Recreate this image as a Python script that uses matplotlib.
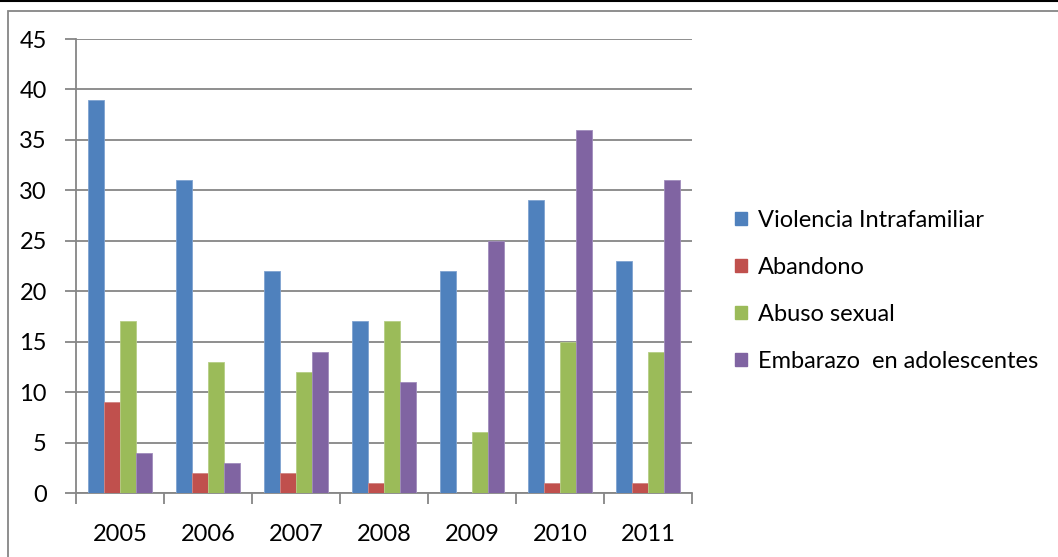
import numpy as np
import matplotlib
matplotlib.use('Agg')
import matplotlib.pyplot as plt
from matplotlib.patches import Rectangle, Patch
from matplotlib.lines import Line2D

plt.rcParams['font.family'] = ['Lato', 'DejaVu Sans']

# datos
years = ['2005', '2006', '2007', '2008', '2009', '2010', '2011']
violencia = [39, 31, 22, 17, 22, 29, 23]
abandono = [9, 2, 2, 1, 0, 1, 1]
abuso = [17, 13, 12, 17, 6, 15, 14]
embarazo = [4, 3, 14, 11, 25, 36, 31]
series = ['Violencia Intrafamiliar', 'Abandono', 'Abuso sexual', 'Embarazo  en adolescentes']
colors = ['#4F81BD', '#C0504D', '#9BBB59', '#8064A2']
edges = ['#7FA3D1', '#D08583', '#B6CE85', '#A08CBC']

fig = plt.figure(figsize=(10.58, 5.57), dpi=100)
ax = fig.add_axes([76 / 1058, 64 / 557, 616 / 1058, 454 / 557])

x = np.arange(len(years))
w = 16 / 88
valores = [violencia, abandono, abuso, embarazo]
for i, vals in enumerate(valores):
    ax.bar(x + (i - 1.5) * w, vals, width=w, color=colors[i], edgecolor=edges[i],
           linewidth=0.6, zorder=3)

ax.set_xlim(-0.5, len(years) - 0.5)
ax.set_ylim(0, 45)
ax.set_yticks(range(0, 46, 5))
ax.set_xticks(x)
ax.set_xticklabels(years)
ax.set_xticks(np.arange(-0.5, len(years), 1), minor=True)
ax.grid(axis='y', color='#868686', linewidth=1.3, zorder=0)

gris = '#868686'
for s in ['top', 'right']:
    ax.spines[s].set_visible(False)
for s in ['left', 'bottom']:
    ax.spines[s].set_color(gris)
    ax.spines[s].set_linewidth(1.3)
ax.tick_params(axis='y', length=8, width=1.3, color=gris, labelsize=17, pad=13)
ax.tick_params(axis='x', which='major', length=0, labelsize=17, pad=22)
ax.tick_params(axis='x', which='minor', length=8, width=1.3, color=gris)

# leyenda
handles = [Patch(facecolor=c, edgecolor=c) for c in colors]
fig.legend(handles, series, loc='center left', bbox_to_anchor=(714 / 1058, 0.478),
           frameon=False, fontsize=17, handlelength=0.5, handleheight=0.5,
           handletextpad=0.45, labelspacing=1.1)

# marco del grafico
fig.add_artist(Rectangle((8 / 1058, -0.1), 1.2, 1.1 - 11 / 557, transform=fig.transFigure,
                         fill=False, edgecolor=gris, linewidth=1.3))
fig.add_artist(Line2D([0, 1], [1 - 0.5 / 557, 1 - 0.5 / 557], transform=fig.transFigure,
                      color='black', linewidth=1.5))

fig.savefig('out.png', dpi=100)
